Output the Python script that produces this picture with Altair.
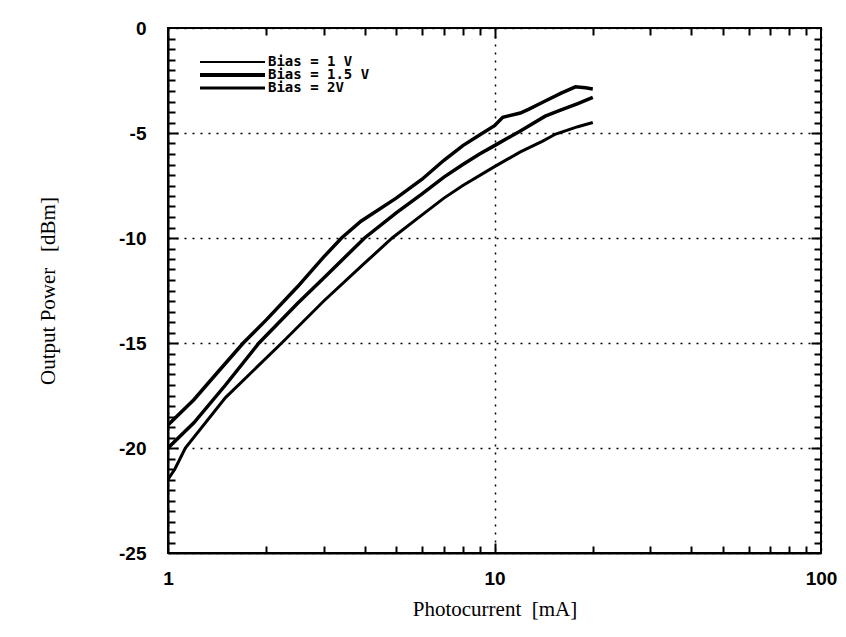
import altair as alt
import pandas as pd

# ---- data ----
x_top = [1, 1.2, 1.4, 1.7, 2, 2.5, 3, 3.4, 3.9, 5, 6, 7, 8, 9, 10, 10.6, 12, 12.8, 14, 16, 17.7, 19, 20]
y_top = [-18.9, -17.7, -16.5, -15.0, -13.9, -12.3, -10.9, -10.0, -9.2, -8.1, -7.2, -6.3, -5.6, -5.1, -4.65, -4.25, -4.05, -3.85, -3.55, -3.1, -2.8, -2.85, -2.9]

x_mid = [1, 1.2, 1.5, 1.9, 2.5, 3, 4, 5, 6, 7, 8, 9, 10, 12, 14.3, 16, 18, 20]
y_mid = [-20.0, -18.8, -17.0, -15.0, -13.1, -11.9, -10.0, -8.8, -7.9, -7.1, -6.5, -6.0, -5.6, -4.9, -4.2, -3.9, -3.6, -3.3]

x_bot = [1, 1.05, 1.13, 1.5, 2.23, 3, 4, 4.86, 6, 7, 8, 10, 12, 14, 15.4, 18, 20]
y_bot = [-21.5, -21.0, -20.0, -17.6, -15.0, -13.0, -11.2, -10.0, -8.9, -8.1, -7.5, -6.6, -5.9, -5.4, -5.05, -4.7, -4.5]

series_names = ["Bias = 2V", "Bias = 1.5 V", "Bias = 1 V"]
series_widths = [3.5, 3.5, 3.0]

legend_labels = ["Bias = 1 V", "Bias = 1.5 V", "Bias = 2V"]
legend_widths = [2.0, 4.0, 3.0]
legend_rows_px = [34, 47, 60]

x_labels = [1, 10, 100]
y_labels = [-25, -20, -15, -10, -5, 0]
x_minor = [2, 3, 4, 5, 6, 7, 8, 9, 20, 30, 40, 50, 60, 70, 80, 90]
x_major = [10]
y_minor = [v / 2 for v in range(-49, 0) if v % 10 != 0]
y_major = [-20, -15, -10, -5]

W, H = 653, 525
NB = "\u00a0"

rows = []
for name, w, xs, ys in zip(series_names, series_widths,
                           [x_top, x_mid, x_bot], [y_top, y_mid, y_bot]):
    for xv, yv in zip(xs, ys):
        rows.append({"series": name, "w": w, "x": xv, "y": yv})
df = pd.DataFrame(rows)

xscale = alt.Scale(type="log", domain=[1, 100], nice=False)
yscale = alt.Scale(domain=[-25, 0], nice=False, zero=False)

x_axis = alt.Axis(values=x_labels, ticks=False, grid=True, gridDash=[2, 6],
                  gridColor="black", gridWidth=1.5, gridOpacity=1,
                  labelExpr="'' + datum.value", labelFont="Liberation Sans",
                  labelFontWeight="bold", labelFontSize=19, labelColor="black",
                  labelPadding=16, domainColor="black", domainWidth=2,
                  title="Photocurrent" + NB * 2 + "[mA]", titleFont="Liberation Serif",
                  titleFontSize=21, titleFontWeight="normal", titleColor="black",
                  titlePadding=10, labelFlush=False)
y_axis = alt.Axis(values=y_labels, ticks=False, grid=True, gridDash=[2, 6],
                  gridColor="black", gridWidth=1.5, gridOpacity=1,
                  labelExpr="'' + datum.value", labelFont="Liberation Sans",
                  labelFontWeight="bold", labelFontSize=19, labelColor="black",
                  labelPadding=22, domainColor="black", domainWidth=2,
                  title="Output Power" + NB * 3 + "[dBm]", titleFont="Liberation Serif",
                  titleFontSize=21, titleFontWeight="normal", titleColor="black",
                  titlePadding=60)

lines = alt.Chart(df).mark_line(color="black", clip=True).encode(
    x=alt.X("x:Q", scale=xscale, axis=x_axis),
    y=alt.Y("y:Q", scale=yscale, axis=y_axis),
    detail="series:N",
    strokeWidth=alt.StrokeWidth("w:Q", scale=None, legend=None),
    order="x:Q",
)

layers = [lines]


def tick_axis(orient, vals, length):
    ax = alt.Axis(orient=orient, values=vals, labels=False, domain=False, grid=False,
                  ticks=True, tickSize=length, offset=-length, tickColor="black",
                  tickWidth=2, title="")
    d = pd.DataFrame({"v": vals})
    m = alt.Chart(d).mark_point(opacity=0, size=1)
    if orient in ("bottom", "top"):
        return m.encode(x=alt.X("v:Q", scale=xscale, axis=ax))
    return m.encode(y=alt.Y("v:Q", scale=yscale, axis=ax))


for o in ("bottom", "top"):
    layers.append(tick_axis(o, x_minor, 7))
    layers.append(tick_axis(o, x_major, 10))
for o in ("left", "right"):
    layers.append(tick_axis(o, y_minor, 7))
    layers.append(tick_axis(o, y_major, 10))

for lab, lw, py in zip(legend_labels, legend_widths, legend_rows_px):
    d = pd.DataFrame({"label": [lab]})
    layers.append(alt.Chart(d).mark_rule(color="black", strokeWidth=lw).encode(
        x=alt.value(32), x2=alt.value(97), y=alt.value(py)))
    layers.append(alt.Chart(d).mark_text(
        align="left", baseline="middle", font="DejaVu Sans Mono",
        fontWeight="bold", fontSize=14, color="black").encode(
        x=alt.value(100), y=alt.value(py), text="label:N"))

chart = alt.layer(*layers).resolve_axis(x="independent", y="independent").properties(
    width=W, height=H,
    autosize=alt.AutoSizeParams(type="none"),
    padding={"left": 160, "top": 20, "right": 17, "bottom": 76},
    background="white",
).configure_view(stroke="black", strokeWidth=2)

chart.save("out.html", embed_options={"renderer": "svg", "actions": False})
